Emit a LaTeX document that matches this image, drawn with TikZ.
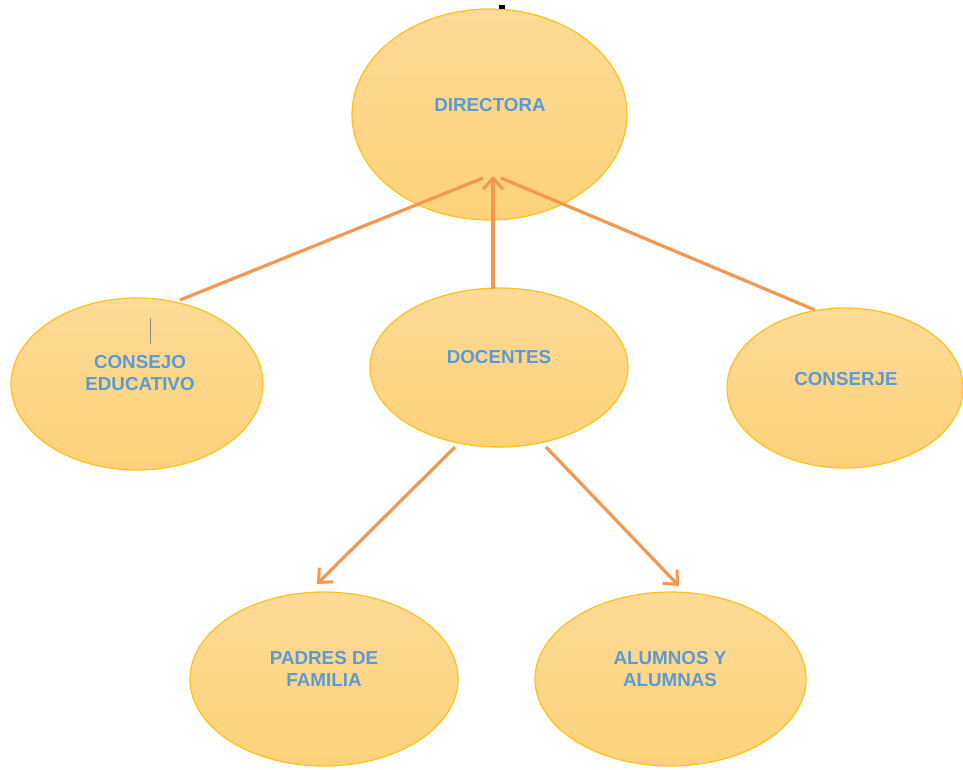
\documentclass[tikz,border=0pt]{standalone}
\usepackage{fontspec}
\setmainfont{Liberation Sans}
\usetikzlibrary{shapes.geometric,arrows.meta}
\definecolor{fillTop}{HTML}{FDDA96}
\definecolor{fillBot}{HTML}{FDD27A}
\definecolor{rim}{HTML}{FFC21A}
\definecolor{txt}{HTML}{5B9BD5}
\definecolor{arr}{HTML}{F3984E}
\tikzset{
  bubble/.style={ellipse, draw=rim, line width=1.2pt, top color=fillTop, bottom color=fillBot, inner sep=0pt},
  lbl/.style={text=txt, font=\bfseries\fontsize{18.8}{22}\selectfont, align=center, inner sep=0pt},
  link/.style={draw=arr, line width=3.2pt},
  arrowlink/.style={link, -{Straight Barb[length=11pt,width=20pt,line width=3pt]}}
}
\begin{document}
\begin{tikzpicture}[x=1pt,y=-1pt]
\useasboundingbox (0,0) rectangle (963,769);
% coordinates of connector ends
\coordinate (cL) at (180,300);
\coordinate (cR) at (815,310);
\coordinate (dL) at (483,178);
\coordinate (dM) at (493,176);
\coordinate (dR) at (501,178);
\coordinate (kL) at (455,447);
\coordinate (kR) at (546,447);
\coordinate (kT) at (493,289);
\coordinate (pT) at (317,584);
\coordinate (aT) at (679,586);
% bubbles
\node[bubble, minimum width=275pt, minimum height=211pt] (dir) at (489.5,114.5) {};
\node[bubble, minimum width=252pt, minimum height=172pt] (con) at (137,384) {};
\node[bubble, minimum width=236pt, minimum height=160pt] (cnj) at (845,388) {};
\node[bubble, minimum width=268pt, minimum height=174pt] (pad) at (324,679) {};
\node[bubble, minimum width=271pt, minimum height=174pt] (alu) at (670.5,679) {};
% connectors
\draw[link] (cL) -- (dL);
\draw[link] (cR) -- (dR);
\draw[arrowlink] (kL) -- (pT);
\draw[arrowlink] (kR) -- (aT);
\node[bubble, minimum width=258pt, minimum height=159pt] (doc) at (499,367.5) {};
\draw[arrowlink] (kT) -- (dM);
% labels
\node[lbl] (dirT) at (490,105) {DIRECTORA};
\node[lbl] (conT) at (140,373) {CONSEJO\\EDUCATIVO};
\node[lbl] (docT) at (499,357) {DOCENTES};
\node[lbl] (cnjT) at (846,379) {CONSERJE};
\node[lbl] (padT) at (324,669) {PADRES DE\\FAMILIA};
\node[lbl] (aluT) at (670,669) {ALUMNOS Y\\ALUMNAS};
% small marks
\fill[black] (499,5) rectangle (505,9);
\draw[black!45, line width=1pt] (150,318) -- (150,344);
\end{tikzpicture}
\end{document}
